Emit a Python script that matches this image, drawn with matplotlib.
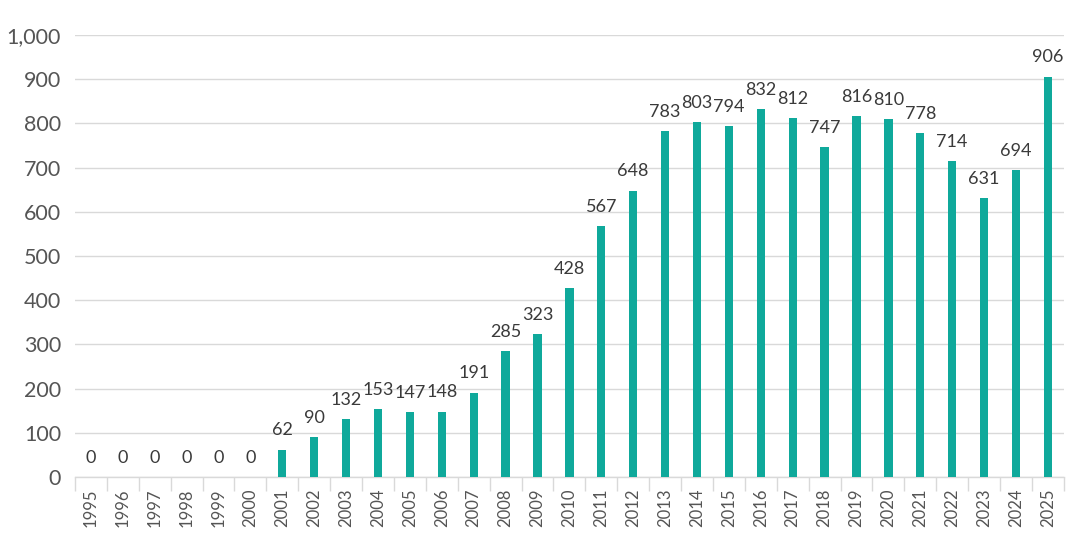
import matplotlib
matplotlib.use("Agg")
import matplotlib.pyplot as plt
from matplotlib.ticker import FuncFormatter, MultipleLocator, FixedLocator

years = [str(y) for y in range(1995, 2026)]
values = [0, 0, 0, 0, 0, 0, 62, 90, 132, 153, 147, 148, 191, 285, 323, 428,
          567, 648, 783, 803, 794, 832, 812, 747, 816, 810, 778, 714, 631, 694, 906]

plt.rcParams['font.family'] = ['Lato', 'DejaVu Sans']

fig = plt.figure(figsize=(10.8, 5.41), dpi=100)
ax = fig.add_axes([0.0694, 0.1183, 0.9156, 0.817])

x = list(range(len(years)))
bars = ax.bar(x, values, width=0.26, color='#0FA99B', zorder=3)

for xi, v in zip(x, values):
    ax.annotate(f"{v}", (xi, v), xytext=(0, 8), textcoords='offset points',
                ha='center', va='bottom', fontsize=13, color='#3a3a3a')

ax.set_xlim(-0.5, len(years) - 0.5)
ax.set_ylim(0, 1000)
ax.yaxis.set_major_locator(MultipleLocator(100))
ax.yaxis.set_major_formatter(FuncFormatter(lambda v, p: f"{int(v):,}"))
ax.grid(axis='y', color='#d9d9d9', linewidth=1, zorder=0)
ax.tick_params(axis='y', length=0, labelsize=15.5, labelcolor='#555555', pad=10)

ax.set_xticks(x)
ax.set_xticklabels(years, rotation=90, fontsize=12, color='#555555')
ax.tick_params(axis='x', length=0, pad=8)
ax.xaxis.set_minor_locator(FixedLocator([i - 0.5 for i in range(len(years) + 1)]))
ax.tick_params(axis='x', which='minor', length=10, color='#d9d9d9', width=1)

for s in ['top', 'right', 'left']:
    ax.spines[s].set_visible(False)
ax.spines['bottom'].set_color('#d9d9d9')
ax.spines['bottom'].set_linewidth(1)

fig.savefig('out.png', dpi=100)
